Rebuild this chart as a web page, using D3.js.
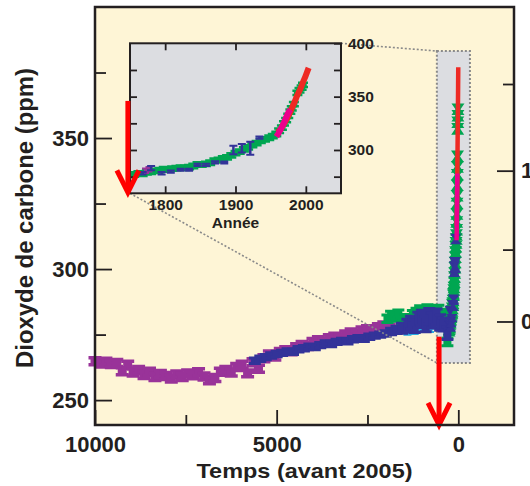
<!DOCTYPE html>
<html><head><meta charset="utf-8">
<script src="https://cdn.jsdelivr.net/npm/d3@7"></script>
<style>
body{margin:0;background:#fff}
svg{display:block}
text{font-family:"Liberation Sans",Arial,Helvetica,sans-serif;font-weight:bold;fill:#231f20}
</style>
</head><body>
<svg id="chart" width="530" height="486"></svg>
<script>
// ---------- DATA ----------
// Main panel: years before 2005 (BP) and CO2 (ppm)
const purpleBP  = [10000,9850,9700,9550,9400,9250,9100,8950,8800,8650,8500,8350,8200,8050,7900,7750,7600,7450,7300,7150,7000,6850,6700,6550,6400,6250,6100,5950,5800,5650,5500,5350,5200,5050,4900,4750,4600,4450,4300,4150,4000,3850,3700,3550,3400,3250,3100,2950,2800,2650,2500,2350,2200,2050,1900];
const purplePPM = [264.8,264.0,264.6,263.8,264.2,261.0,263.5,260.5,261.5,259.6,260.8,258.8,260.0,259.2,258.2,259.8,258.8,260.2,259.5,260.6,259.0,257.6,258.4,260.8,261.5,260.5,262.6,263.5,260.2,264.4,262.0,266.0,267.4,266.6,268.4,269.0,268.6,270.2,271.0,270.6,272.2,272.8,272.0,273.6,274.2,273.8,275.0,275.8,275.2,276.6,277.0,276.4,277.8,278.5,277.6];

const blueBP  = [5600,5450,5300,5150,5000,4850,4700,4550,4400,4250,4100,3950,3800,3650,3500,3350,3200,3050,2900,2750,2600,2450,2300,2150,2000,1850,1700,1550,1400,1300,1200,1100,1000,900,800,700,600,500,400,300];
const bluePPM = [265.0,265.8,266.4,267.0,267.6,268.0,268.6,268.4,269.4,269.8,270.4,270.2,271.0,271.6,271.4,272.2,272.6,272.4,273.2,273.6,273.4,274.2,274.6,275.0,275.4,276.2,276.8,277.4,278.4,279.6,278.2,280.6,281.4,279.0,282.0,280.4,281.8,279.6,278.8,275.6];
const blueErr = [1.6,1.6,1.6,1.6,1.6,1.6,1.6,1.6,1.6,1.6,1.6,1.6,1.6,1.6,1.6,1.6,1.6,1.6,1.6,1.6,1.6,1.6,1.6,1.6,1.6,1.8,2,2.5,3,3,3,3.5,3.5,3.5,3.5,3.5,3.5,3.5,3,3];

const greenBP  = [1950,1850,1750,1650,1550,1450,1350,1250,1150,1050,950,850,750,650,550,450,350,300];
const greenPPM = [281.0,282.5,281.5,283.0,280.0,281.2,278.0,282.8,283.6,284.6,283.8,285.0,284.2,283.6,284.8,283.2,279.6,272.2];

const cyanBP  = [1400,1300,1200,1050,780];
const cyanPPM = [275.6,276.2,275.8,277.0,276.6];

// Inset panel: calendar year and CO2 (ppm)
const insetGreenYear = [1750,1756,1762,1768,1774,1780,1786,1792,1798,1804,1810,1816,1822,1828,1834,1840,1846,1852,1858,1864,1870,1876,1882,1888,1894,1900,1906,1912,1918,1924,1930,1936,1942,1948,1953,1958,1962,1966,1969,1972,1975,1978,1980,1983,1988,1991,1994,1996];
const insetGreenPPM  = [276.5,277.0,278.0,277.6,279.0,279.5,280.5,281.0,282.0,281.6,282.5,283.0,283.5,283.2,284.0,285.0,286.5,286.2,287.0,288.0,290.0,290.6,292.0,293.0,295.0,297.0,298.5,300.5,302.5,304.5,306.5,308.5,310.0,311.5,313.0,315.0,318.0,321.0,325.0,328.0,332.0,336.0,339.0,343.0,353.5,356.0,358.5,361.0];

const insetBlueYear = [1768,1780,1795,1808,1822,1834,1846,1858,1871,1884,1897,1909,1921,1934];
const insetBluePPM  = [278.2,283.0,278.2,279.8,281.4,281.4,286.1,286.1,288.3,288.3,300.0,301.6,301.6,311.5];
const insetBlueErr  = [2.0,3.0,2.0,2.0,1.5,1.5,2.0,2.0,2.0,1.5,5.0,5.0,7.0,2.0];

const insetPurpleYear = [1772,1777];
const insetPurplePPM  = [280.5,282.0];

const pinkYear = [1958,1961,1964,1967,1970,1973,1976,1978];
const pinkPPM  = [311.0,314.0,317.5,321.5,326.0,330.5,334.5,336.5];

const redYear = [1960,1964,1968,1972,1976,1980,1984,1988,1992,1996,2000,2004];
const redPPM  = [316.5,319.5,323.5,328.0,333.0,339.0,345.0,351.5,357.0,363.5,370.0,377.0];

// Tick values / labels
const mainYTicks = [250,300,350], mainYMinor = [275,325,375];
const mainXTicks = [10000,5000,0], mainXMinor = [7500,2500];
const forcingTicks = [0,1], forcingMinor = [0.5,1.5];
const insetXTicks = [1800,1900,2000];
const insetYTicks = [275,300,325,350,375,400], insetYLabels = [300,350,400];

// ---------- SETUP ----------
const svg = d3.select("#chart");
const P = {l:95, r:514, t:7, b:425};
const I = {l:130, r:341, t:43.3, b:193.3};
const xMain = d3.scaleLinear().domain([10000,-1533]).range([P.l,P.r]);
const yMain = d3.scaleLinear().domain([240.5,400]).range([P.b,P.t]);
const xIn = d3.scaleLinear().domain([1750,2050]).range([I.l,I.r]);
const yIn = d3.scaleLinear().domain([259.4,400]).range([I.b,I.t]);
const f2c = f => 280*Math.exp(f/5.35);
const C = {bg:"#fef5d6", gray:"#dcdde1", purple:"#993399", blue:"#333399", green:"#00a651", cyan:"#29abe2", pink:"#ec008c", red:"#ee2a24", arrow:"#ff0000", dot:"#8a8a8a"};

svg.append("rect").attr("x",P.l).attr("y",P.t).attr("width",P.r-P.l).attr("height",P.b-P.t).attr("fill",C.bg);

const zb = {bp0:590, bp1:-320, c0:264.2, c1:383.2};
svg.append("rect").attr("x",xMain(zb.bp0)).attr("y",yMain(zb.c1))
  .attr("width",xMain(zb.bp1)-xMain(zb.bp0)).attr("height",yMain(zb.c0)-yMain(zb.c1))
  .attr("fill",C.gray).attr("stroke",C.dot).attr("stroke-width",2).attr("stroke-dasharray","2,2");

function iPath(cx,cy,h,w,t,s){
  return `M${cx-w/2},${cy-h}h${w}v${t}h${-w}Z M${cx-w/2},${cy+h-t}h${w}v${t}h${-w}Z M${cx-s/2},${cy-h}h${s}v${2*h}h${-s}Z`;
}
function hgPath(cx,cy,h,w,s){
  return `M${cx-w/2},${cy-h}h${w}L${cx+s/2},${cy}L${cx+w/2},${cy+h}h${-w}L${cx-s/2},${cy}Z`;
}
function drawI(g,xs,ys,errs,xs_,ys_,color,w,t,s){
  g.selectAll(null).data(xs.map((d,i)=>i)).enter().append("path")
    .attr("d",i=>{const cx=xs_(xs[i]), cy=ys_(ys[i]); const h=Math.abs(ys_(ys[i]+errs[i])-cy); return iPath(cx,cy,Math.max(h,t),w,t,s);})
    .attr("fill",color);
}
function drawHG(g,xs,ys,errs,xs_,ys_,color,w,s){
  g.selectAll(null).data(xs.map((d,i)=>i)).enter().append("path")
    .attr("d",i=>{const cx=xs_(xs[i]), cy=ys_(ys[i]); const h=Math.abs(ys_(ys[i]+errs[i])-cy); return hgPath(cx,cy,h,w,s);})
    .attr("fill",color);
}
const fill = (arr,v)=>arr.map(()=>v);
const bpOf = yrs => yrs.map(y=>2005-y);

// ---------- MAIN DATA ----------
const gm = svg.append("g");
drawI(gm,purpleBP,purplePPM,fill(purpleBP,2.0),xMain,yMain,C.purple,13,3.5,9);
drawI(gm,greenBP,greenPPM,fill(greenBP,2.0),xMain,yMain,C.green,12,3,8);
drawHG(gm,bpOf(insetGreenYear),insetGreenPPM,fill(insetGreenYear,2.2),xMain,yMain,C.green,13,5);
drawI(gm,cyanBP,cyanPPM,fill(cyanBP,1.0),xMain,yMain,C.cyan,8,2,5);
drawI(gm,blueBP,bluePPM,blueErr,xMain,yMain,C.blue,12,3,8);
drawHG(gm,bpOf(insetBlueYear),insetBluePPM,insetBlueErr.map(e=>Math.min(e,3)),xMain,yMain,C.blue,11,3);
const lineMain = d3.line().x(d=>xMain(2005-d[0])).y(d=>yMain(d[1]));
gm.append("path").attr("d",lineMain(redYear.map((y,i)=>[y,redPPM[i]]))).attr("fill","none").attr("stroke",C.red).attr("stroke-width",4.5);
gm.append("path").attr("d",lineMain(pinkYear.map((y,i)=>[y,pinkPPM[i]]))).attr("fill","none").attr("stroke",C.pink).attr("stroke-width",4.5);

svg.append("line").attr("x1",I.r).attr("y1",I.t).attr("x2",xMain(zb.bp0)).attr("y2",yMain(zb.c1))
  .attr("stroke",C.dot).attr("stroke-width",1.6).attr("stroke-dasharray","2,2");
svg.append("line").attr("x1",I.l).attr("y1",I.b).attr("x2",xMain(zb.bp0)).attr("y2",yMain(zb.c0))
  .attr("stroke",C.dot).attr("stroke-width",1.6).attr("stroke-dasharray","2,2");

// ---------- INSET ----------
svg.append("rect").attr("x",I.l).attr("y",I.t).attr("width",I.r-I.l).attr("height",I.b-I.t).attr("fill",C.gray);
svg.append("clipPath").attr("id","ic").append("rect").attr("x",I.l).attr("y",I.t).attr("width",I.r-I.l).attr("height",I.b-I.t);
const gi = svg.append("g").attr("clip-path","url(#ic)");
drawI(gi,insetGreenYear,insetGreenPPM,fill(insetGreenYear,3.2),xIn,yIn,C.green,10,2.5,7);
drawI(gi,insetPurpleYear,insetPurplePPM,[3,3],xIn,yIn,C.purple,7,2,3);
drawI(gi,insetBlueYear,insetBluePPM,insetBlueErr,xIn,yIn,C.blue,8,2,2.5);
const lineIn = d3.line().x(d=>xIn(d[0])).y(d=>yIn(d[1])).curve(d3.curveMonotoneX);
gi.append("path").attr("d",lineIn(redYear.map((y,i)=>[y,redPPM[i]]))).attr("fill","none").attr("stroke",C.red).attr("stroke-width",6);
gi.append("path").attr("d",lineIn(pinkYear.map((y,i)=>[y,pinkPPM[i]+1.5]))).attr("fill","none").attr("stroke",C.pink).attr("stroke-width",6);
svg.append("rect").attr("x",I.l).attr("y",I.t).attr("width",I.r-I.l).attr("height",I.b-I.t).attr("fill","none").attr("stroke","#231f20").attr("stroke-width",2);

function styleAxis(g,fs){
  g.select(".domain").remove();
  g.selectAll(".tick line").attr("stroke","#231f20").attr("stroke-width",1.8);
  g.selectAll(".tick text").attr("font-size",fs).attr("font-family",null).attr("fill","#231f20");
}
const insetFS = 15.5;
styleAxis(svg.append("g").attr("transform",`translate(${I.l},0)`).call(d3.axisLeft(yIn).tickValues(insetYTicks.slice(0,5)).tickSize(-7).tickFormat("")),insetFS);
styleAxis(svg.append("g").attr("transform",`translate(${I.r},0)`).call(d3.axisRight(yIn).tickValues(insetYTicks).tickSize(-7).tickPadding(7).tickFormat(d=>insetYLabels.includes(d)?d:"")),insetFS);
styleAxis(svg.append("g").attr("transform",`translate(0,${I.t})`).call(d3.axisTop(xIn).tickValues(insetXTicks).tickSize(-7).tickFormat("")),insetFS);
styleAxis(svg.append("g").attr("transform",`translate(0,${I.b})`).call(d3.axisBottom(xIn).tickValues(insetXTicks).tickSize(-7).tickPadding(6).tickFormat(d3.format("d"))),insetFS);
svg.append("text").attr("x",(I.l+I.r)/2).attr("y",227.5).attr("text-anchor","middle").attr("font-size",insetFS).text("Année");

// ---------- ARROWS ----------
function arrow(x,y0,y1){
  svg.append("line").attr("x1",x).attr("x2",x).attr("y1",y0).attr("y2",y1-3).attr("stroke",C.arrow).attr("stroke-width",5);
  svg.append("path").attr("d",`M${x-11},${y1-23}L${x},${y1-1}L${x+11},${y1-23}`).attr("fill","none").attr("stroke",C.arrow).attr("stroke-width",5).attr("stroke-linejoin","miter");
}
arrow(xIn(1747), yIn(346), yIn(259.4));
arrow(xMain(530), yMain(274.2), yMain(240.2));

// ---------- MAIN FRAME & AXES ----------
svg.append("rect").attr("x",P.l).attr("y",P.t).attr("width",P.r-P.l).attr("height",P.b-P.t).attr("fill","none").attr("stroke","#231f20").attr("stroke-width",2.5);
const mainFS = 22;
styleAxis(svg.append("g").attr("transform",`translate(${P.l},0)`).call(d3.axisLeft(yMain).tickValues(mainYTicks).tickSize(-17).tickPadding(6)),mainFS);
styleAxis(svg.append("g").attr("transform",`translate(${P.l},0)`).call(d3.axisLeft(yMain).tickValues(mainYMinor).tickSize(-11).tickFormat("")),mainFS);
styleAxis(svg.append("g").attr("transform",`translate(0,${P.b})`).call(d3.axisBottom(xMain).tickValues(mainXTicks).tickSize(-15).tickPadding(11).tickFormat(d3.format("d"))),mainFS);
styleAxis(svg.append("g").attr("transform",`translate(0,${P.b})`).call(d3.axisBottom(xMain).tickValues(mainXMinor).tickSize(-10).tickFormat("")),mainFS);
styleAxis(svg.append("g").attr("transform",`translate(${P.r},0)`).call(d3.axisRight(yMain).tickValues(forcingTicks.map(f2c)).tickSize(-17).tickPadding(7).tickFormat((d,i)=>forcingTicks[i])),mainFS);
styleAxis(svg.append("g").attr("transform",`translate(${P.r},0)`).call(d3.axisRight(yMain).tickValues(forcingMinor.map(f2c)).tickSize(-11).tickFormat("")),mainFS);

svg.append("text").attr("x",(P.l+P.r)/2).attr("y",477.5).attr("text-anchor","middle").attr("font-size",21)
  .attr("textLength",216).attr("lengthAdjust","spacingAndGlyphs").text("Temps (avant 2005)");
svg.append("text").attr("transform","translate(33,218) rotate(-90)").attr("text-anchor","middle").attr("font-size",23)
  .attr("textLength",300).attr("lengthAdjust","spacingAndGlyphs").text("Dioxyde de carbone (ppm)");
</script>
</body></html>
